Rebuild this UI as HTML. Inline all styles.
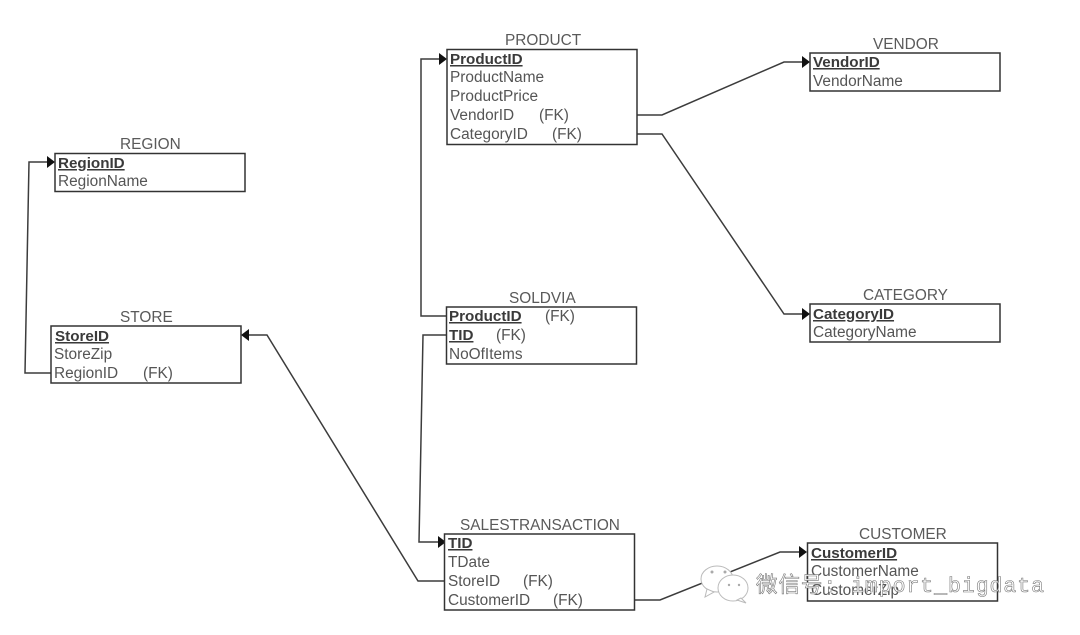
<!DOCTYPE html>
<html><head><meta charset="utf-8"><style>
html,body{margin:0;padding:0;background:#fff;width:1080px;height:635px;overflow:hidden}
svg{display:block;filter:blur(.35px)}
text{font-family:"Liberation Sans",sans-serif;font-size:15.4px;fill:#555}
.t{fill:#5a5a5a;font-size:15.4px}
.k{font-weight:bold;fill:#3a3a3a;text-decoration:underline;font-size:15.2px}
.b{fill:#fff;stroke:#333;stroke-width:1.5}
.l{fill:none;stroke:#3c3c3c;stroke-width:1.5}
.a{fill:#111}
.w{font-family:"Liberation Mono","Noto Sans CJK SC",monospace;font-size:21.5px;fill:#fff;stroke:#777;stroke-width:.6}
</style></head><body>
<svg width="1080" height="635" viewBox="0 0 1080 635" xmlns="http://www.w3.org/2000/svg">
<g>
<path class="l" d="M51 373H25L29 162H50"/>
<path class="l" d="M447 316H421V59H442"/>
<path class="l" d="M447 335H423L419 542H441"/>
<path class="l" d="M637 115H662L784 62H805"/>
<path class="l" d="M637 134H662L784 314H805"/>
<path class="l" d="M444 581H418L267 335H247"/>
<path class="l" d="M635 600H660L780 552H802"/>
<path class="a" d="M47 156L55 162L47 168Z"/>
<path class="a" d="M439 53L447 59L439 65Z"/>
<path class="a" d="M802 56L810 62L802 68Z"/>
<path class="a" d="M802 308L810 314L802 320Z"/>
<path class="a" d="M438 536L446 542L438 548Z"/>
<path class="a" d="M799 546L807 552L799 558Z"/>
<path class="a" d="M249 329L241 335L249 341Z"/>
</g>
<rect class="b" x="447" y="49.5" width="190" height="95"/>
<rect class="b" x="55" y="153.5" width="190" height="38"/>
<rect class="b" x="51" y="326" width="190" height="57"/>
<rect class="b" x="810" y="53" width="190" height="38"/>
<rect class="b" x="810" y="304" width="190" height="38"/>
<rect class="b" x="446.500" y="307" width="190" height="57"/>
<rect class="b" x="444.500" y="534" width="190" height="76"/>
<rect class="b" x="807.500" y="543" width="190" height="58"/>

<text class="t" x="505" y="45">PRODUCT</text>
<text class="k" x="450" y="64">ProductID</text>
<text x="450" y="82">ProductName</text>
<text x="450" y="101">ProductPrice</text>
<text x="450" y="120">VendorID</text><text x="539" y="120">(FK)</text>
<text x="450" y="139">CategoryID</text><text x="552" y="139">(FK)</text>

<text class="t" x="120" y="149">REGION</text>
<text class="k" x="58" y="168">RegionID</text>
<text x="58" y="186">RegionName</text>

<text class="t" x="120" y="322">STORE</text>
<text class="k" x="55" y="341">StoreID</text>
<text x="54" y="359">StoreZip</text>
<text x="54" y="378">RegionID</text><text x="143" y="378">(FK)</text>

<text class="t" x="873" y="49">VENDOR</text>
<text class="k" x="813" y="67">VendorID</text>
<text x="813" y="86">VendorName</text>

<text class="t" x="863" y="300">CATEGORY</text>
<text class="k" x="813" y="319">CategoryID</text>
<text x="813" y="337">CategoryName</text>

<text class="t" x="509" y="303">SOLDVIA</text>
<text class="k" x="449" y="321">ProductID</text><text x="545" y="321">(FK)</text>
<text class="k" x="449" y="340">TID</text><text x="496" y="340">(FK)</text>
<text x="449" y="359">NoOfItems</text>

<text class="t" x="460" y="530">SALESTRANSACTION</text>
<text class="k" x="448" y="548">TID</text>
<text x="448" y="567">TDate</text>
<text x="448" y="586">StoreID</text><text x="523" y="586">(FK)</text>
<text x="448" y="605">CustomerID</text><text x="553" y="605">(FK)</text>

<text class="t" x="859" y="539">CUSTOMER</text>
<text class="k" x="811" y="558">CustomerID</text>
<text x="811" y="576">CustomerName</text>
<text x="811" y="595">CustomerZip</text>

<g fill="#fff" stroke="#bbb" stroke-width="1">
<ellipse cx="717" cy="579" rx="16" ry="13"/>
<path d="M707 589L705 597L714 592Z"/>
<ellipse cx="733" cy="588" rx="15" ry="13"/>
<path d="M741 598L746 603L737 600Z"/>
</g>
<g fill="#aaa"><circle cx="712" cy="572" r="1.500"/><circle cx="725" cy="572" r="1.500"/><circle cx="729" cy="585" r="1.200"/><circle cx="739" cy="585" r="1.200"/></g>
<text class="w" x="756" y="592" textLength="288">微信号: import_bigdata</text>
</svg>
</body></html>
